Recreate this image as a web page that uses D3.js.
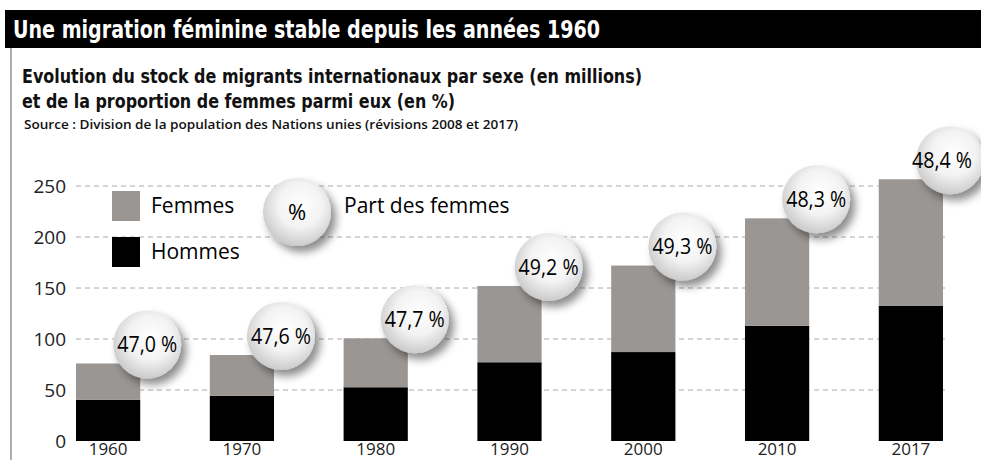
<!DOCTYPE html>
<html>
<head>
<meta charset="utf-8">
<script src="https://cdn.jsdelivr.net/npm/d3@7"></script>
<style>
body { margin:0; background:#fff; }
svg { display:block; }
</style>
</head>
<body>
<div class="chart"></div>
<script>
// data
var years = ["1960","1970","1980","1990","2000","2010","2017"]
var hommes = [40.3, 44.2, 52.7, 77.2, 87.2, 112.9, 132.4]
var femmes = [35.7, 40.1, 48.0, 74.8, 84.8, 105.4, 124.2]
var partFemmes = [47.0, 47.6, 47.7, 49.2, 49.3, 48.3, 48.4]
var yTicks = [0, 50, 100, 150, 200, 250]

var width = 981
var height = 460
var condensed = "'Liberation Sans Narrow','DejaVu Sans Condensed','Open Sans',sans-serif"
var plain = "'Open Sans','Noto Sans',sans-serif"

var svg = d3.select(".chart").append("svg").attr("width",width).attr("height",height)

// defs: bubble gradient + shadow
var defs = svg.append("defs")
var grad = defs.append("radialGradient").attr("id","bubble").attr("cx","55%").attr("cy","40%").attr("r","65%")
grad.append("stop").attr("offset","0%").attr("stop-color","#ffffff")
grad.append("stop").attr("offset","50%").attr("stop-color","#f3f3f3")
grad.append("stop").attr("offset","100%").attr("stop-color","#c4c4c4")
var shadow = defs.append("filter").attr("id","shadow").attr("x","-40%").attr("y","-40%").attr("width","190%").attr("height","190%")
shadow.append("feDropShadow").attr("dx",5).attr("dy",6).attr("stdDeviation",4)
	.attr("flood-color","#000").attr("flood-opacity",0.45)

// header
svg.append("rect").attr("x",5).attr("y",10).attr("width",width-5).attr("height",38).attr("fill","#000")
svg.append("line").attr("x1",11).attr("x2",11).attr("y1",48).attr("y2",height).attr("stroke","#777").attr("stroke-width",1.2)
svg.append("text").attr("x",13).attr("y",38).attr("fill","#fff")
	.style("font-family",condensed).style("font-weight","bold").style("font-size","25px")
	.attr("textLength",587).attr("lengthAdjust","spacingAndGlyphs")
	.text("Une migration féminine stable depuis les années 1960")

var sub = [
	{t:"Evolution du stock de migrants internationaux par sexe (en millions)", y:83, w:620},
	{t:"et de la proportion de femmes parmi eux (en %)", y:108, w:433}
]
svg.selectAll("text.sub").data(sub).enter().append("text").attr("class","sub")
	.attr("x",22).attr("y",function(d){return d.y})
	.attr("fill","#111")
	.style("font-family",condensed).style("font-weight","bold").style("font-size","20px")
	.attr("textLength",function(d){return d.w}).attr("lengthAdjust","spacingAndGlyphs")
	.text(function(d){return d.t})
svg.append("text").attr("x",24).attr("y",129).attr("fill","#111")
	.style("font-family",plain).style("font-weight","600").style("font-size","12.5px")
	.attr("textLength",494).attr("lengthAdjust","spacingAndGlyphs")
	.text("Source : Division de la population des Nations unies (révisions 2008 et 2017)")

//scales
var x = d3.scaleBand().domain(years).range([76,943]).paddingInner(0.52).paddingOuter(0)
var y = d3.scaleLinear().domain([0,250]).range([441,186])

// grid
svg.append("g").attr("class","grid").selectAll("line").data(yTicks.slice(1)).enter().append("line")
	.attr("x1",76).attr("x2",946)
	.attr("y1",function(d){return y(d)}).attr("y2",function(d){return y(d)})
	.attr("stroke","#aaa").attr("stroke-width",1).attr("stroke-dasharray","5,4")

// y axis labels
var yAxis = svg.append("g").attr("transform","translate(66,0)")
	.call(d3.axisLeft(y).tickValues(yTicks).tickSize(0).tickPadding(0))
yAxis.select(".domain").remove()
yAxis.selectAll("text").style("font-family",plain).style("font-size","19px").attr("fill","#222")

// stacked bars
var rows = years.map(function(yr,i){return {year:yr, hommes:hommes[i], femmes:femmes[i], part:partFemmes[i]}})
var stack = d3.stack().keys(["hommes","femmes"])(rows)
var colors = {hommes:"#000000", femmes:"#9a9693"}
svg.append("g").attr("class","bars").selectAll("g").data(stack).enter().append("g")
	.attr("fill",function(d){return colors[d.key]})
	.selectAll("rect").data(function(d){return d}).enter().append("rect")
	.attr("x",function(d){return x(d.data.year)})
	.attr("width",x.bandwidth())
	.attr("y",function(d){return y(d[1])})
	.attr("height",function(d){return y(d[0]) - y(d[1])})

// x labels (cut by the bottom edge in the original, kept inside here)
svg.append("g").selectAll("text").data(years).enter().append("text")
	.attr("x",function(d){return x(d) + x.bandwidth()/2})
	.attr("y",455)
	.attr("text-anchor","middle")
	.attr("fill","#222")
	.style("font-family",plain).style("font-size","17px")
	.text(function(d){return d})

// bubbles with share of women
var fmt = function(v){return d3.format(".1f")(v).replace(".",",") + " %"}
var bubbleX = function(d){return x(d.year) + x.bandwidth() + 7}
var labelW = 60
var bubbles = svg.append("g").selectAll("g").data(rows).enter().append("g")
	.attr("transform",function(d){
		return "translate(" + bubbleX(d) + "," + (y(d.hommes + d.femmes) - 19) + ")"
	})
bubbles.append("circle").attr("r",34).attr("fill","url(#bubble)").attr("filter","url(#shadow)")
bubbles.append("text").attr("text-anchor","middle").attr("dy","0.36em")
	.attr("x",function(d){
		// keep the last label inside the frame
		var over = bubbleX(d) + labelW/2 - (width - 9)
		return over > 0 ? -over : 0
	})
	.attr("fill","#000")
	.style("font-family",plain).style("font-size","22px")
	.attr("textLength",labelW).attr("lengthAdjust","spacingAndGlyphs")
	.text(function(d){return fmt(d.part)})

// legend
var legend = svg.append("g").attr("class","legend")
var legItems = [{key:"femmes", label:"Femmes", y:191}, {key:"hommes", label:"Hommes", y:237}]
legend.selectAll("rect").data(legItems).enter().append("rect")
	.attr("x",112).attr("y",function(d){return d.y}).attr("width",28).attr("height",30)
	.attr("fill",function(d){return colors[d.key]})
legend.selectAll("text").data(legItems).enter().append("text")
	.attr("x",151).attr("y",function(d){return d.y + 22})
	.attr("fill","#000")
	.style("font-family",plain).style("font-size","21px")
	.text(function(d){return d.label})
var legBubble = legend.append("g").attr("transform","translate(297,212)")
legBubble.append("circle").attr("r",34).attr("fill","url(#bubble)").attr("filter","url(#shadow)")
legBubble.append("text").attr("text-anchor","middle").attr("dy","0.36em").attr("fill","#000")
	.style("font-family",plain).style("font-size","22px").text("%")
legend.append("text").attr("x",344).attr("y",213).attr("fill","#000")
	.style("font-family",plain).style("font-size","21px").text("Part des femmes")
</script>
</body>
</html>
